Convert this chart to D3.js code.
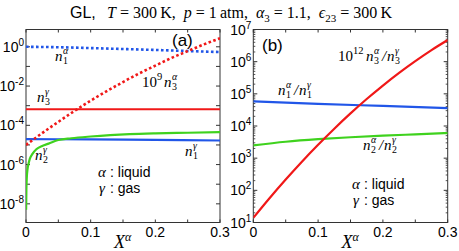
<!DOCTYPE html>
<html>
<head>
<meta charset="utf-8">
<script src="https://cdn.jsdelivr.net/npm/d3@7"></script>
<style>
  body { margin: 0; background: #fff; }
  svg { display: block; }
</style>
</head>
<body>
<script>
// Canvas size
var width = 459;
var height = 251;

// ---- data ----
// panel (a): densities
var xTicks = [0, 0.1, 0.2, 0.3];
var aDecadeLabels = [-8, -6, -4, -2, 0];

var n1aX = [0, 0.05, 0.1, 0.15, 0.2, 0.25, 0.3];
var n1aY = [1.0, 0.95, 0.86, 0.77, 0.69, 0.61, 0.54];

var n3aX = [0, 0.025, 0.05, 0.075, 0.1, 0.125, 0.15, 0.175, 0.2, 0.225, 0.25, 0.275, 0.3];
var n3aY = [1.0e-5, 4.0e-5, 1.5e-4, 5.4e-4, 1.8e-3, 5.5e-3, 1.6e-2, 4.4e-2, 0.11, 0.27, 0.60, 1.32, 2.7];

var n3gX = [0, 0.1, 0.2, 0.3];
var n3gY = [6.6e-4, 6.6e-4, 6.6e-4, 6.6e-4];

var n1gX = [0, 0.1, 0.2, 0.3];
var n1gY = [2.0e-5, 1.9e-5, 1.8e-5, 1.68e-5];

var n2gX = [0.0002, 0.0006, 0.0012, 0.0025, 0.004, 0.006, 0.01, 0.016, 0.025, 0.035, 0.05, 0.07, 0.1, 0.13, 0.16, 0.2, 0.25, 0.3];
var n2gY = [5.0e-9, 5.0e-8, 2.0e-7, 6.3e-7, 1.12e-6, 2.0e-6, 3.5e-6, 6.0e-6, 8.9e-6, 1.17e-5, 1.78e-5, 2.19e-5, 2.69e-5, 3.16e-5, 3.55e-5, 3.89e-5, 4.17e-5, 4.47e-5];

// panel (b): ratios
var bDecadeLabels = [1, 2, 3, 4, 5, 6, 7];

var r3X = [0, 0.025, 0.05, 0.075, 0.1, 0.125, 0.15, 0.175, 0.2, 0.225, 0.25, 0.275, 0.3];
var r3Y = [14, 57, 217, 780, 2610, 8260, 24600, 68900, 181000, 449000, 1.04e6, 2.29e6, 4.7e6];

var r1X = [0, 0.1, 0.2, 0.3];
var r1Y = [5.8e4, 4.9e4, 4.2e4, 3.6e4];

var r2X = [0, 0.05, 0.1, 0.15, 0.2, 0.25, 0.3];
var r2Y = [2510, 3240, 3890, 4470, 5010, 5500, 6030];

var blue = "#2156e8";
var red = "#f01818";
var green = "#3fd21e";

var sans = "'Liberation Sans', Arial, Helvetica, sans-serif";
var serif = "'Liberation Serif', 'DejaVu Serif', serif";

var svg = d3.select("body")
    .append("svg")
    .attr("width", width)
    .attr("height", height);

// Title
var title = svg.append("text")
    .attr("x", 70)
    .attr("y", 18)
    .attr("font-size", 16);
title.append("tspan").attr("font-family", sans).text("GL,");
function tsp(txt, italic, dy, size) {
    var t = title.append("tspan").attr("font-family", serif).text(txt);
    if (italic) t.attr("font-style", "italic");
    if (dy) t.attr("dy", dy);
    if (size) t.attr("font-size", size);
    return t;
}
tsp("\u2002\u2009T", true);
tsp(" = 300\u2009K,\u2002");
tsp("p", true);
tsp(" = 1\u2009atm,\u2002");
tsp("\u03b1", true);
tsp("3", false, 4, 11);
tsp(" = 1.1,\u2002", false, -4);
tsp("\u03f5", true);
tsp("23", false, 4, 11);
tsp(" = 300\u2009K", false, -4);

// Panel builder
function panel(cfg) {
    var x = d3.scaleLinear().domain([0, 0.3]).range([cfg.left, cfg.right]);
    var y = d3.scaleLog().domain(cfg.yDomain).range([cfg.bottom, cfg.top]);
    var g = svg.append("g");

    var clipId = "clip" + cfg.name;
    svg.append("clipPath").attr("id", clipId)
        .append("rect")
        .attr("x", cfg.left).attr("y", cfg.top)
        .attr("width", cfg.right - cfg.left).attr("height", cfg.bottom - cfg.top);

    // x ticks every 0.05 (bottom and top, inward)
    var xt = d3.range(0, 0.3001, 0.05);
    xt.forEach(function (v) {
        g.append("line").attr("x1", x(v)).attr("x2", x(v))
            .attr("y1", cfg.bottom).attr("y2", cfg.bottom - 3)
            .attr("stroke", "#333");
        g.append("line").attr("x1", x(v)).attr("x2", x(v))
            .attr("y1", cfg.top).attr("y2", cfg.top + 3)
            .attr("stroke", "#333");
    });
    xTicks.forEach(function (v) {
        g.append("text")
            .attr("x", x(v)).attr("y", cfg.bottom + 14)
            .attr("text-anchor", "middle")
            .attr("font-family", sans).attr("font-size", 14)
            .text(v === 0 ? "0" : d3.format(".1f")(v));
    });

    // y ticks
    var lo = Math.ceil(Math.log10(cfg.yDomain[0]) - 1e-9);
    var hi = Math.floor(Math.log10(cfg.yDomain[1]) + 1e-9);
    for (var e = lo; e <= hi; e++) {
        var yy = y(Math.pow(10, e));
        [[cfg.left, cfg.left + 4], [cfg.right, cfg.right - 4]].forEach(function (p) {
            g.append("line").attr("x1", p[0]).attr("x2", p[1])
                .attr("y1", yy).attr("y2", yy).attr("stroke", "#333");
        });
        if (cfg.minor && e < hi) {
            for (var m = 2; m <= 9; m++) {
                var ym = y(m * Math.pow(10, e));
                g.append("line").attr("x1", cfg.left).attr("x2", cfg.left + 2)
                    .attr("y1", ym).attr("y2", ym).attr("stroke", "#555");
                g.append("line").attr("x1", cfg.right).attr("x2", cfg.right - 2)
                    .attr("y1", ym).attr("y2", ym).attr("stroke", "#555");
            }
        }
    }
    cfg.labels.forEach(function (e) {
        var yy = y(Math.pow(10, e));
        var t = g.append("text")
            .attr("x", cfg.left - 2).attr("y", yy + 5)
            .attr("text-anchor", "end")
            .attr("font-family", sans).attr("font-size", 14);
        t.append("tspan").text("10");
        t.append("tspan").attr("font-size", 10).attr("dy", -6).text(String(e));
    });

    // frame
    g.append("rect")
        .attr("x", cfg.left).attr("y", cfg.top)
        .attr("width", cfg.right - cfg.left).attr("height", cfg.bottom - cfg.top)
        .attr("fill", "none").attr("stroke", "#333").attr("stroke-width", 1);

    // x label
    var xl = g.append("text")
        .attr("x", (cfg.left + cfg.right) / 2 - 9).attr("y", 248)
        .attr("font-family", serif).attr("font-size", 18);
    xl.append("tspan").attr("font-style", "italic").text("X");
    xl.append("tspan").attr("font-style", "italic").attr("font-size", 12).attr("dy", -7).text("\u03b1");

    var curves = svg.append("g").attr("clip-path", "url(#" + clipId + ")");
    var line = d3.line()
        .x(function (d) { return x(d[0]); })
        .y(function (d) { return y(d[1]); })
        .curve(d3.curveMonotoneX);
    cfg.series.forEach(function (s) {
        curves.append("path")
            .datum(d3.zip(s.x, s.y))
            .attr("d", line)
            .attr("fill", "none")
            .attr("stroke", s.color)
            .attr("stroke-width", s.dash ? 2.6 : 2.2)
            .attr("stroke-dasharray", s.dash ? "2.6,2.4" : null);
    });
    return g;
}

panel({
    name: "a", left: 26, right: 220, top: 29.5, bottom: 222.5,
    yDomain: [1.12e-9, 7.6], labels: aDecadeLabels, minor: false,
    series: [
        { x: n3gX, y: n3gY, color: red },
        { x: n1gX, y: n1gY, color: blue },
        { x: n2gX, y: n2gY, color: green },
        { x: n1aX, y: n1aY, color: blue, dash: true },
        { x: n3aX, y: n3aY, color: red, dash: true }
    ]
});

panel({
    name: "b", left: 253.3, right: 447.7, top: 29.5, bottom: 222.5,
    yDomain: [10, 1e7], labels: bDecadeLabels, minor: true,
    series: [
        { x: r1X, y: r1Y, color: blue },
        { x: r2X, y: r2Y, color: green },
        { x: r3X, y: r3Y, color: red }
    ]
});

// ---- annotations ----
function mathN(x, y, sub, sup, size) {
    size = size || 15;
    var t = svg.append("text").attr("x", x).attr("y", y)
        .attr("font-family", serif).attr("font-size", size).attr("font-style", "italic");
    t.append("tspan").text("n");
    var w = size * 0.5;
    svg.append("text").attr("x", x + w + 0.5).attr("y", y - size * 0.45)
        .attr("font-family", serif).attr("font-size", size * 0.66).attr("font-style", "italic")
        .text(sup);
    svg.append("text").attr("x", x + w + 0.5).attr("y", y + size * 0.22)
        .attr("font-family", serif).attr("font-size", size * 0.66)
        .text(sub);
    return x + w + size * 0.5;
}
function plain(x, y, txt, size, font, italic) {
    var t = svg.append("text").attr("x", x).attr("y", y)
        .attr("font-family", font || serif).attr("font-size", size || 15)
        .text(txt);
    if (italic) t.attr("font-style", "italic");
    return t;
}
function ratio(x, y, sub) {
    var e = mathN(x, y, sub, "\u03b1");
    plain(e + 1, y, "/", 15, serif, true);
    mathN(e + 6, y, sub, "\u03b3");
}

// panel (a)
plain(172, 46, "(a)", 17, sans);
mathN(55, 61, "1", "\u03b1");
plain(142, 87, "10", 15, serif);
plain(157, 80, "9", 10.5, serif);
mathN(164, 87, "3", "\u03b1");
mathN(37, 102, "3", "\u03b3");
mathN(35, 160, "2", "\u03b3");
mathN(185, 156, "1", "\u03b3");
plain(98, 177, "\u03b1", 15, serif, true);
plain(110, 177, ": liquid", 14, sans);
plain(99, 193, "\u03b3", 15, serif, true);
plain(110, 193, ": gas", 14, sans);

// panel (b)
plain(262, 51, "(b)", 17, sans);
plain(338, 61, "10", 15, serif);
plain(353, 54, "12", 10.5, serif);
(function () {
    var e = mathN(366, 61, "3", "\u03b1");
    plain(e + 1, 61, "/", 15, serif, true);
    mathN(e + 6, 61, "3", "\u03b3");
})();
ratio(278, 95, "1");
ratio(363, 150, "2");
plain(352, 189, "\u03b1", 15, serif, true);
plain(364, 189, ": liquid", 14, sans);
plain(353, 205, "\u03b3", 15, serif, true);
plain(364, 205, ": gas", 14, sans);
</script>
</body>
</html>
